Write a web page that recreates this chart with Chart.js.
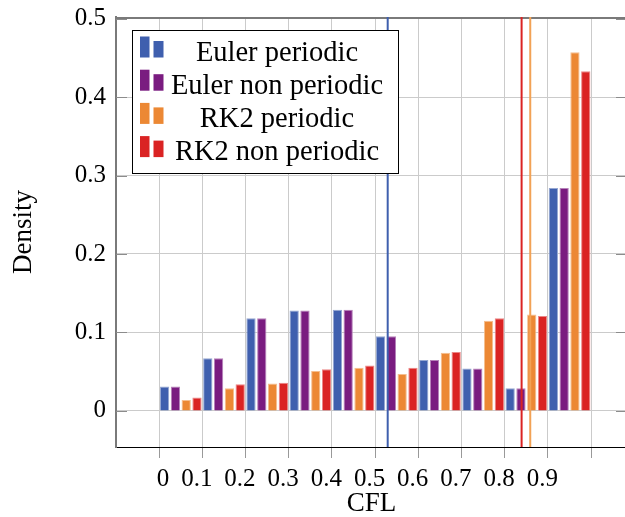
<!DOCTYPE html>
<html>
<head>
<meta charset="utf-8">
<script src="https://cdn.jsdelivr.net/npm/chart.js@4.4.0/dist/chart.umd.min.js"></script>
<style>
  html, body { margin: 0; padding: 0; background: #fff; overflow: hidden; }
  #wrap { width: 630px; height: 517px; }
</style>
</head>
<body>
<div id="wrap"><canvas id="chart" width="630" height="517"></canvas></div>
<script>
// CFL histogram: bin centres and density per scheme
const binCenters       = [0.05, 0.15, 0.25, 0.35, 0.45, 0.55, 0.65, 0.75, 0.85, 0.95];
const eulerPeriodic    = [0.031, 0.067, 0.118, 0.128, 0.129, 0.095, 0.065, 0.054, 0.029, 0.284];
const eulerNonPeriodic = [0.031, 0.067, 0.118, 0.128, 0.129, 0.095, 0.065, 0.054, 0.029, 0.284];
const rk2Periodic      = [0.014, 0.029, 0.035, 0.051, 0.055, 0.047, 0.074, 0.115, 0.123, 0.457];
const rk2NonPeriodic   = [0.017, 0.034, 0.036, 0.053, 0.058, 0.055, 0.075, 0.118, 0.121, 0.433];

// stability limits drawn as vertical lines
const eulerLimit          = 0.529;
const rk2PeriodicLimit    = 0.859;
const rk2NonPeriodicLimit = 0.839;

// axes
const xTicks      = [0, 0.1, 0.2, 0.3, 0.4, 0.5, 0.6, 0.7, 0.8, 0.9, 1.0];
const xTickLabels = ['0', '0.1', '0.2', '0.3', '0.4', '0.5', '0.6', '0.7', '0.8', '0.9', ''];
const yTicks      = [0, 0.1, 0.2, 0.3, 0.4, 0.5];
const yTickLabels = ['0', '0.1', '0.2', '0.3', '0.4', '0.5'];
const xRange = [-0.1, 1.083];
const yRange = [-0.046, 0.502];

const colors = {
  blue:   '#3f5fae',
  purple: '#7a1c80',
  orange: '#ec8834',
  red:    '#da2323',
  orangeLine: '#f2a255',
  grid:   '#cbcbcb',
};

const serif = "'Liberation Serif', 'Times New Roman', serif";

// lighter edge like pgfplots bars
function lighten(hex, t) {
  const n = parseInt(hex.slice(1), 16);
  const r = (n >> 16) & 255, g = (n >> 8) & 255, b = n & 255;
  const m = c => Math.round(c + (255 - c) * t);
  return `rgb(${m(r)}, ${m(g)}, ${m(b)})`;
}

function barSet(label, values, color) {
  return {
    type: 'bar',
    label,
    data: binCenters.map((x, i) => ({ x, y: values[i] })),
    backgroundColor: color,
    borderColor: lighten(color, 0.45),
    borderWidth: 1,
    categoryPercentage: 1.0,
    barPercentage: 0.86,
    order: 1,
  };
}

function limitLine(label, x, color) {
  return {
    type: 'line',
    label,
    data: [{ x, y: yRange[0] }, { x, y: yRange[1] }],
    borderColor: color,
    borderWidth: 2,
    pointRadius: 0,
    order: 0,
  };
}

// frame: top border + inward y ticks on both sides
const frame = {
  id: 'frame',
  beforeDatasetsDraw(chart) {
    const { ctx, chartArea: a, scales: { y } } = chart;
    ctx.save();
    ctx.strokeStyle = '#8c8c8c';
    ctx.lineWidth = 1;
    yTicks.forEach(v => {
      const py = Math.round(y.getPixelForValue(v)) + 0.5;
      ctx.beginPath();
      ctx.moveTo(a.left, py); ctx.lineTo(a.left + 11, py);
      ctx.moveTo(a.right - 11, py); ctx.lineTo(a.right, py);
      ctx.stroke();
    });
    ctx.strokeStyle = '#7a7a7a';
    ctx.lineWidth = 2;
    ctx.beginPath();
    ctx.moveTo(a.left, a.top + 1);
    ctx.lineTo(a.right, a.top + 1);
    ctx.stroke();
    ctx.restore();
  }
};

// pgfplots-style legend box with ybar icons and centred text
const barLegend = {
  id: 'barLegend',
  afterDraw(chart) {
    const { ctx, chartArea: a } = chart;
    const x0 = a.left + 16, y0 = a.top + 13, w = 266, h = 143;
    ctx.save();
    ctx.fillStyle = '#fff';
    ctx.fillRect(x0, y0, w, h);
    ctx.strokeStyle = '#000';
    ctx.lineWidth = 1;
    ctx.strokeRect(x0 + 0.5, y0 + 0.5, w, h);
    ctx.font = `28.5px ${serif}`;
    ctx.textAlign = 'center';
    ctx.textBaseline = 'alphabetic';
    const bars = chart.data.datasets.filter(d => d.type === 'bar');
    bars.forEach((d, i) => {
      const base = y0 + 27.5 + i * 33.2;
      ctx.fillStyle = d.backgroundColor;
      ctx.fillRect(x0 + 8, base - 21, 9.5, 21);
      ctx.fillRect(x0 + 21.5, base - 16.5, 10, 16.5);
      ctx.fillStyle = '#000';
      ctx.fillText(d.label, x0 + 145, base + 3);
    });
    ctx.restore();
  }
};

new Chart(document.getElementById('chart'), {
  type: 'bar',
  data: {
    datasets: [
      barSet('Euler periodic', eulerPeriodic, colors.blue),
      barSet('Euler non periodic', eulerNonPeriodic, colors.purple),
      barSet('RK2 periodic', rk2Periodic, colors.orange),
      barSet('RK2 non periodic', rk2NonPeriodic, colors.red),
      limitLine('Euler limit', eulerLimit, colors.blue),
      limitLine('RK2 non periodic limit', rk2NonPeriodicLimit, colors.red),
      limitLine('RK2 periodic limit', rk2PeriodicLimit, colors.orangeLine),
    ]
  },
  options: {
    responsive: false,
    animation: false,
    layout: { padding: { top: 17, right: 3, left: 0, bottom: 0 } },
    plugins: {
      legend: { display: false },
      tooltip: { enabled: false },
    },
    scales: {
      x: {
        type: 'linear',
        min: xRange[0],
        max: xRange[1],
        offset: false,
        afterBuildTicks: s => { s.ticks = xTicks.map(v => ({ value: v })); },
        afterFit: s => { s.height = 70; s.paddingLeft = 0; s.paddingRight = 0; },
        ticks: {
          autoSkip: false,
          maxRotation: 0,
          align: 'end',
          labelOffset: 10,
          padding: 6,
          color: '#000',
          font: { family: serif, size: 25 },
          callback: (v, i) => xTickLabels[i],
        },
        grid: {
          offset: false,
          color: colors.grid,
          lineWidth: 1,
          drawTicks: true,
          tickLength: 11,
          tickColor: '#999',
        },
        border: { color: '#000', width: 1 },
        title: {
          display: true,
          text: 'CFL',
          color: '#000',
          font: { family: serif, size: 27, lineHeight: 1 },
          padding: { top: 0, bottom: 0 },
        },
      },
      y: {
        type: 'linear',
        min: yRange[0],
        max: yRange[1],
        afterBuildTicks: s => { s.ticks = yTicks.map(v => ({ value: v })); },
        afterFit: s => { s.width = 116; s.paddingTop = 0; s.paddingBottom = 0; },
        ticks: {
          padding: 10,
          color: '#000',
          font: { family: serif, size: 25 },
          callback: (v, i) => yTickLabels[i],
        },
        grid: {
          color: colors.grid,
          lineWidth: 1,
          drawTicks: false,
        },
        border: { color: '#7a7a7a', width: 2 },
        title: {
          display: true,
          text: 'Density',
          color: '#000',
          font: { family: serif, size: 27, lineHeight: 1 },
          padding: { top: 10, bottom: 0 },
        },
      },
    },
  },
  plugins: [frame, barLegend],
});
</script>
</body>
</html>
